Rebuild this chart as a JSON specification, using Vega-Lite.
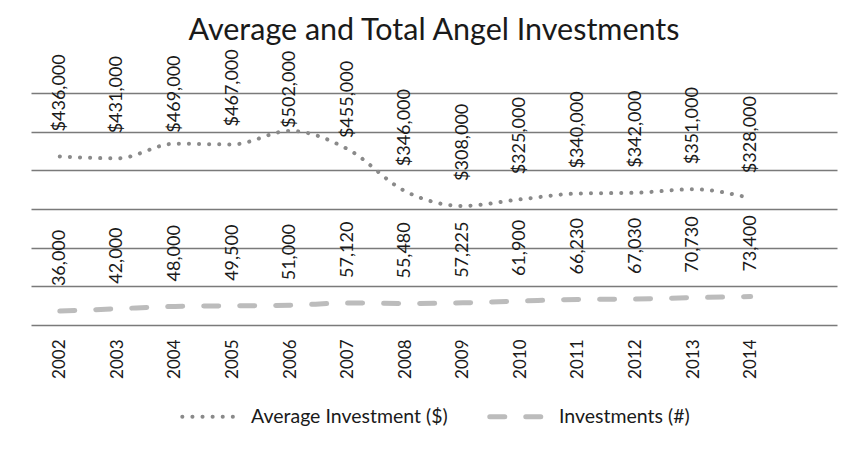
{
  "$schema": "https://vega.github.io/schema/vega-lite/v6.json",
  "width": 806,
  "height": 232,
  "autosize": {"type": "none"},
  "padding": {"left": 31, "top": 93, "right": 22, "bottom": 124},
  "background": "white",
  "config": {"view": {"stroke": null}, "font": "Lato"},
  "title": {"text": "Average and Total Angel Investments", "font": "Lato", "fontSize": 30.5, "fontWeight": "normal", "color": "#1a1a1a", "anchor": "middle", "offset": 3},
  "data": {"values": [
    {"year": 2002, "series": "Average Investment ($)", "value": 436000},
    {"year": 2003, "series": "Average Investment ($)", "value": 431000},
    {"year": 2004, "series": "Average Investment ($)", "value": 469000},
    {"year": 2005, "series": "Average Investment ($)", "value": 467000},
    {"year": 2006, "series": "Average Investment ($)", "value": 502000},
    {"year": 2007, "series": "Average Investment ($)", "value": 455000},
    {"year": 2008, "series": "Average Investment ($)", "value": 346000},
    {"year": 2009, "series": "Average Investment ($)", "value": 308000},
    {"year": 2010, "series": "Average Investment ($)", "value": 325000},
    {"year": 2011, "series": "Average Investment ($)", "value": 340000},
    {"year": 2012, "series": "Average Investment ($)", "value": 342000},
    {"year": 2013, "series": "Average Investment ($)", "value": 351000},
    {"year": 2014, "series": "Average Investment ($)", "value": 328000},
    {"year": 2002, "series": "Investments (#)", "value": 36000},
    {"year": 2003, "series": "Investments (#)", "value": 42000},
    {"year": 2004, "series": "Investments (#)", "value": 48000},
    {"year": 2005, "series": "Investments (#)", "value": 49500},
    {"year": 2006, "series": "Investments (#)", "value": 51000},
    {"year": 2007, "series": "Investments (#)", "value": 57120},
    {"year": 2008, "series": "Investments (#)", "value": 55480},
    {"year": 2009, "series": "Investments (#)", "value": 57225},
    {"year": 2010, "series": "Investments (#)", "value": 61900},
    {"year": 2011, "series": "Investments (#)", "value": 66230},
    {"year": 2012, "series": "Investments (#)", "value": 67030},
    {"year": 2013, "series": "Investments (#)", "value": 70730},
    {"year": 2014, "series": "Investments (#)", "value": 73400}
  ]},
  "encoding": {
    "x": {"field": "year", "type": "quantitative",
      "scale": {"domain": [2001.5, 2015.5], "nice": false, "zero": false},
      "axis": {"title": null, "values": [2002, 2003, 2004, 2005, 2006, 2007, 2008, 2009, 2010, 2011, 2012, 2013, 2014], "format": "d", "labelAngle": -90, "labelFont": "Lato", "labelFontSize": 17, "labelColor": "#1a1a1a", "labelPadding": 14, "domain": false, "ticks": false, "grid": false, "labelFlush": false, "labelOverlap": false}},
    "y": {"field": "value", "type": "quantitative",
      "scale": {"domain": [0, 600000], "nice": false},
      "axis": {"title": null, "values": [0, 100000, 200000, 300000, 400000, 500000, 600000], "labels": false, "ticks": false, "domain": false, "grid": true, "gridColor": "#7a7a7a", "gridWidth": 1.3, "gridOpacity": 1}}
  },
  "layer": [
    {
      "mark": {"type": "line", "interpolate": "monotone", "strokeCap": "round"},
      "encoding": {
        "color": {"field": "series", "type": "nominal",
          "scale": {"domain": ["Average Investment ($)", "Investments (#)"], "range": ["#8a8a8a", "#bcbcbc"]},
          "legend": {"title": null, "orient": "none", "legendX": 149, "legendY": 292, "direction": "horizontal", "symbolType": "stroke", "symbolSize": 3300, "symbolStrokeWidth": 4.5, "labelFont": "Lato", "labelFontSize": 19.5, "labelLimit": 400, "labelColor": "#1a1a1a", "columnPadding": 31, "labelOffset": 9, "symbolOffset": 0, "encoding": {"symbols": {"strokeCap": {"value": "round"}}}}},
        "strokeDash": {"field": "series", "type": "nominal",
          "scale": {"domain": ["Average Investment ($)", "Investments (#)"], "range": [[0.1, 10], [15, 21]]},
          "legend": {"title": null, "orient": "none", "legendX": 149, "legendY": 292, "direction": "horizontal", "symbolType": "stroke", "symbolSize": 3300, "symbolStrokeWidth": 4.5, "labelFont": "Lato", "labelFontSize": 19.5, "labelLimit": 400, "labelColor": "#1a1a1a", "columnPadding": 31, "labelOffset": 9, "symbolOffset": 0, "encoding": {"symbols": {"strokeCap": {"value": "round"}}}}},
        "strokeWidth": {"field": "series", "type": "nominal",
          "scale": {"domain": ["Average Investment ($)", "Investments (#)"], "range": [4, 5]},
          "legend": null}
      }
    },
    {
      "transform": [{"filter": "datum.series == 'Average Investment ($)' && (datum.year < 2004 || datum.year > 2007)"}],
      "mark": {"type": "text", "angle": 270, "align": "left", "baseline": "middle", "dx": 25, "font": "Lato", "fontSize": 18, "color": "#1a1a1a"},
      "encoding": {"text": {"field": "value", "type": "quantitative", "format": "$,.0f"}}
    },
    {
      "transform": [{"filter": "datum.series == 'Average Investment ($)' && (datum.year == 2004 || datum.year == 2007)"}],
      "mark": {"type": "text", "angle": 270, "align": "left", "baseline": "middle", "dx": 11, "font": "Lato", "fontSize": 18, "color": "#1a1a1a"},
      "encoding": {"text": {"field": "value", "type": "quantitative", "format": "$,.0f"}}
    },
    {
      "transform": [{"filter": "datum.series == 'Average Investment ($)' && datum.year == 2005"}],
      "mark": {"type": "text", "angle": 270, "align": "left", "baseline": "middle", "dx": 18, "font": "Lato", "fontSize": 18, "color": "#1a1a1a"},
      "encoding": {"text": {"field": "value", "type": "quantitative", "format": "$,.0f"}}
    },
    {
      "transform": [{"filter": "datum.series == 'Average Investment ($)' && datum.year == 2006"}],
      "mark": {"type": "text", "angle": 270, "align": "left", "baseline": "middle", "dx": 3, "font": "Lato", "fontSize": 18, "color": "#1a1a1a"},
      "encoding": {"text": {"field": "value", "type": "quantitative", "format": "$,.0f"}}
    },
    {
      "transform": [{"filter": "datum.series == 'Investments (#)'"}],
      "mark": {"type": "text", "angle": 270, "align": "left", "baseline": "middle", "dx": 25, "font": "Lato", "fontSize": 18, "color": "#1a1a1a"},
      "encoding": {"text": {"field": "value", "type": "quantitative", "format": ",.0f"}}
    }
  ]
}
